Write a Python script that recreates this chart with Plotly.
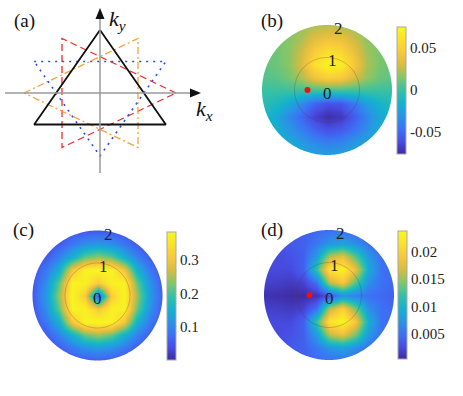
import numpy as np
import plotly.graph_objects as go

W, H = 463, 396

# ---- panel (a): triangle vertices (unit circumradius) ----
tri_solid_x = [0, 0.866, -0.866, 0]
tri_solid_y = [1, -0.5, -0.5, 1]
tri_dot_x = [-0.866, 0.866, 0, -0.866]
tri_dot_y = [0.5, 0.5, -1, 0.5]
tri_dash_x = [1, -0.5, -0.5, 1]
tri_dash_y = [0, 0.866, -0.866, 0]
tri_dashdot_x = [-1, 0.5, 0.5, -1]
tri_dashdot_y = [0, 0.866, -0.866, 0]

# ---- panels (b)-(d): values on a k-grid, rows listed top (ky=2) to bottom (ky=-2) ----
k_grid = [-2, -1.6, -1.2, -0.8, -0.4, 0, 0.4, 0.8, 1.2, 1.6, 2]

# (b) in units of 1e-3
zb_rows = [
    [12, 13, 15, 18, 22, 24, 22, 19, 15, 13, 12],
    [11, 12, 15, 22, 34, 40, 38, 28, 17, 13, 11],
    [9, 11, 16, 28, 48, 58, 54, 38, 20, 13, 10],
    [8, 10, 16, 32, 60, 72, 68, 46, 22, 13, 10],
    [5, 7, 12, 22, 40, 50, 47, 32, 18, 10, 7],
    [0, 0, 0, 0, 0, 0, 0, 0, 0, 0, 0],
    [-6, -10, -20, -36, -52, -60, -58, -44, -26, -14, -8],
    [-10, -20, -36, -50, -66, -74, -70, -56, -38, -22, -12],
    [-10, -16, -30, -40, -52, -60, -56, -46, -34, -18, -12],
    [-12, -14, -20, -28, -36, -40, -38, -30, -22, -16, -12],
    [-12, -14, -16, -20, -24, -26, -24, -20, -16, -14, -12],
]
# (c) in units of 1e-3
zc_rows = [
    [45, 45, 45, 48, 52, 55, 52, 48, 45, 45, 45],
    [45, 45, 55, 85, 110, 122, 110, 85, 55, 45, 45],
    [45, 55, 95, 150, 215, 240, 215, 150, 95, 55, 45],
    [48, 85, 150, 300, 372, 378, 372, 300, 150, 85, 48],
    [52, 110, 215, 372, 368, 310, 368, 372, 215, 110, 52],
    [55, 122, 240, 378, 310, 50, 310, 378, 240, 122, 55],
    [52, 110, 215, 372, 368, 310, 368, 372, 215, 110, 52],
    [48, 85, 150, 300, 372, 378, 372, 300, 150, 85, 48],
    [45, 55, 95, 150, 215, 240, 215, 150, 95, 55, 45],
    [45, 45, 55, 85, 110, 122, 110, 85, 55, 45, 45],
    [45, 45, 45, 48, 52, 55, 52, 48, 45, 45, 45],
]
# (d) in units of 1e-3
zd_rows = [
    [3.5, 3.5, 3.5, 4.0, 4.5, 5.0, 5.0, 4.5, 4.0, 3.5, 3.5],
    [3.0, 3.0, 3.5, 4.0, 5.5, 7.5, 8.5, 7.0, 5.0, 4.0, 4.0],
    [2.5, 2.5, 3.0, 4.0, 8.0, 16.0, 18.0, 13.0, 7.5, 5.0, 4.0],
    [2.5, 2.5, 2.5, 4.0, 12.0, 22.0, 23.0, 18.0, 9.0, 5.0, 4.5],
    [2.0, 1.8, 1.5, 2.0, 5.0, 16.0, 19.0, 13.0, 7.0, 5.0, 4.5],
    [1.0, 0.8, 0.6, 0.6, 1.0, 3.0, 7.0, 6.0, 5.0, 4.5, 4.0],
    [2.0, 1.8, 1.5, 2.0, 5.0, 16.0, 20.0, 14.0, 7.0, 5.0, 4.5],
    [2.5, 2.5, 2.5, 4.0, 12.0, 22.0, 23.5, 19.0, 9.5, 5.0, 4.5],
    [2.5, 2.5, 3.0, 4.0, 8.0, 16.0, 18.0, 14.0, 7.5, 5.0, 4.0],
    [3.0, 3.0, 3.5, 4.0, 5.5, 7.5, 8.5, 7.0, 5.0, 4.0, 4.0],
    [3.5, 3.5, 3.5, 4.0, 4.5, 5.0, 5.0, 4.5, 4.0, 3.5, 3.5],
]

zb_range = [-0.076, 0.075]
zc_range = [0.003, 0.382]
zd_range = [0.0004, 0.0238]

zb_ticks = [-0.05, 0, 0.05]
zb_ticktext = ["-0.05", "0", "0.05"]
zc_ticks = [0.1, 0.2, 0.3]
zc_ticktext = ["0.1", "0.2", "0.3"]
zd_ticks = [0.005, 0.01, 0.015, 0.02]
zd_ticktext = ["0.005", "0.01", "0.015", "0.02"]

r_ticks = [0, 1, 2]
dot_x, dot_y = [-0.6], [0]

# parula-like colour map (slightly washed, as in the figure)
parula = [
    [0.0, "rgb(62,42,160)"],
    [0.1, "rgb(72,78,228)"],
    [0.2, "rgb(60,114,245)"],
    [0.3, "rgb(40,150,228)"],
    [0.4, "rgb(20,178,205)"],
    [0.5, "rgb(55,192,165)"],
    [0.6, "rgb(130,198,105)"],
    [0.7, "rgb(215,188,65)"],
    [0.8, "rgb(248,200,60)"],
    [0.9, "rgb(250,225,45)"],
    [1.0, "rgb(248,248,30)"],
]

SERIF = "Liberation Serif"


def px(x):
    return x / W


def py(y):
    return 1 - y / H


fig = go.Figure()

# ---------------- panel (a) ----------------
# pixel mapping: x_px = 100 + 76*x, y_px = 93 - 63*y
ax_x0, ax_x1, ax_y0, ax_y1 = 0, 210, 0, 185
fig.update_layout(
    xaxis=dict(domain=[px(ax_x0), px(ax_x1)], range=[(ax_x0 - 100) / 76, (ax_x1 - 100) / 76]),
    yaxis=dict(domain=[py(ax_y1), py(ax_y0)], range=[(93 - ax_y1) / 63, (93 - ax_y0) / 63]),
)

fig.add_shape(type="line", xref="x", yref="y", x0=(5 - 100) / 76, y0=0, x1=(192 - 100) / 76, y1=0,
              line=dict(color="#9a9a9a", width=1.5))
fig.add_shape(type="line", xref="x", yref="y", x0=0, y0=(93 - 173) / 63, x1=0, y1=(93 - 18) / 63,
              line=dict(color="#9a9a9a", width=1.5))

# arrow heads
tip_x, base_x, hw_y = (201 - 100) / 76, (190 - 100) / 76, 4.5 / 63
fig.add_shape(type="path", xref="x", yref="y",
              path=f"M{tip_x},0 L{base_x},{hw_y} L{base_x},{-hw_y} Z",
              fillcolor="#111", line=dict(width=0))
tip_y, base_y, hw_x = (93 - 8) / 63, (93 - 19) / 63, 4.5 / 76
fig.add_shape(type="path", xref="x", yref="y",
              path=f"M0,{tip_y} L{hw_x},{base_y} L{-hw_x},{base_y} Z",
              fillcolor="#111", line=dict(width=0))

tri_specs = [
    (tri_dash_x, tri_dash_y, "#f02a2a", "7px,4px", 1.3),
    (tri_dashdot_x, tri_dashdot_y, "#f7a03c", "7px,3px,2px,3px", 1.3),
    (tri_dot_x, tri_dot_y, "#3048f0", "2px,5px", 1.6),
    (tri_solid_x, tri_solid_y, "#111111", "solid", 1.8),
]
for tx, ty, col, dash, lw in tri_specs:
    fig.add_trace(go.Scatter(x=tx, y=ty, mode="lines", xaxis="x", yaxis="y",
                             line=dict(color=col, dash=dash, width=lw),
                             hoverinfo="skip", showlegend=False))

for txt, (lx, ly) in [("<i>k</i><sub><i>y</i></sub>", (117, 20)), ("<i>k</i><sub><i>x</i></sub>", (204, 110))]:
    fig.add_annotation(x=px(lx), y=py(ly), xref="paper", yref="paper", showarrow=False,
                       xanchor="center", yanchor="middle", text=txt,
                       font=dict(family=SERIF, size=22, color="#111"))


# ---------------- panels (b)-(d) ----------------
SCALE = 32.5  # px per k-unit
HALF = 76  # half box size in px


def circle_path(r, n=240):
    t = np.linspace(0, 2 * np.pi, n, endpoint=False)
    return "M" + " L".join(f"{r * np.cos(a):.4f},{r * np.sin(a):.4f}" for a in t) + " Z"


panels = [
    # idx, centre px, rows, range, ticks, ticktext, colorbar box (x0, y0, y1), dot
    (2, (327, 90), zb_rows, zb_range, zb_ticks, zb_ticktext, (397, 27, 154), True),
    (3, (97.5, 295.5), zc_rows, zc_range, zc_ticks, zc_ticktext, (167, 232, 360), False),
    (4, (329, 295), zd_rows, zd_range, zd_ticks, zd_ticktext, (398, 231, 359), True),
]

for idx, (cx, cy), rows, zr, tv, tt, (cbx, cby0, cby1), has_dot in panels:
    xa, ya = f"x{idx}", f"y{idx}"
    rng = HALF / SCALE
    fig.layout[f"xaxis{idx}"] = dict(domain=[px(cx - HALF), px(cx + HALF)], range=[-rng, rng])
    fig.layout[f"yaxis{idx}"] = dict(domain=[py(cy + HALF), py(cy - HALF)], range=[-rng, rng])

    z = np.array(rows[::-1], dtype=float) * 1e-3
    fig.add_trace(go.Heatmap(
        x=k_grid, y=k_grid, z=z, xaxis=xa, yaxis=ya, zsmooth="best",
        colorscale=parula, zmin=zr[0], zmax=zr[1], hoverinfo="skip",
        colorbar=dict(
            x=px(cbx), xanchor="left", xpad=0,
            y=py((cby0 + cby1) / 2), yanchor="middle", ypad=0,
            len=cby1 - cby0, lenmode="pixels",
            thickness=9, thicknessmode="pixels",
            outlinewidth=1, outlinecolor="#a8a8a8",
            tickvals=tv, ticktext=tt, ticks="",
            tickfont=dict(family=SERIF, size=15, color="#222"),
        ),
    ))

    # white mask outside radius 2
    fig.add_shape(type="path", xref=xa, yref=ya,
                  path="M-4,-4 L4,-4 L4,4 L-4,4 Z " + circle_path(2.0),
                  fillcolor="white", fillrule="evenodd", line=dict(width=0), layer="above")
    # r = 1 grid circle
    fig.add_shape(type="path", xref=xa, yref=ya, path=circle_path(1.0),
                  line=dict(color="rgba(90,60,40,0.35)", width=0.8), layer="above")

    if has_dot:
        fig.add_trace(go.Scatter(x=dot_x, y=dot_y, mode="markers", xaxis=xa, yaxis=ya,
                                 marker=dict(color="#ee1111", size=6),
                                 hoverinfo="skip", showlegend=False))

    ang = np.deg2rad(80)
    for r in r_ticks:
        fig.add_annotation(x=r * np.cos(ang), y=r * np.sin(ang), xref=xa, yref=ya,
                           yshift=-3, showarrow=False, text=str(r),
                           xanchor="center", yanchor="middle",
                           font=dict(family=SERIF, size=17, color="#222"))

# panel letters
for lab, (lx, ly) in zip(["(a)", "(b)", "(c)", "(d)"], [(24, 21), (272, 21), (23, 230), (272, 230)]):
    fig.add_annotation(x=px(lx), y=py(ly), xref="paper", yref="paper", showarrow=False,
                       xanchor="center", yanchor="middle",
                       text=lab, font=dict(family=SERIF, size=19, color="#111"))

axis_off = dict(showgrid=False, zeroline=False, showticklabels=False, ticks="", showline=False)
fig.update_xaxes(**axis_off)
fig.update_yaxes(**axis_off)

fig.update_layout(
    width=W, height=H,
    margin=dict(l=0, r=0, t=0, b=0),
    paper_bgcolor="white", plot_bgcolor="white",
    showlegend=False,
)

fig.write_html("out.html", config={"displayModeBar": False},
               post_script="document.body.style.margin='0';")
